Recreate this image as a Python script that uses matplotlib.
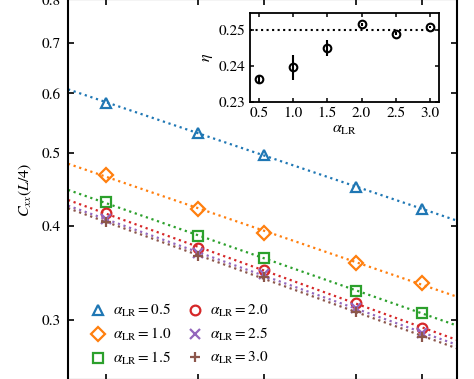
import matplotlib
matplotlib.use("Agg")
import matplotlib.pyplot as plt
import numpy as np
from matplotlib.ticker import NullLocator, FixedLocator, FixedFormatter

plt.rcParams['font.family'] = 'STIXGeneral'
plt.rcParams['mathtext.fontset'] = 'stix'
plt.rcParams['font.size'] = 10.5

# system sizes and correlation values C_xx(L/4)
L = [16, 24, 32, 48, 64]
alphas = [0.5, 1.0, 1.5, 2.0, 2.5, 3.0]
C_05 = [0.583, 0.532, 0.497, 0.451, 0.421]
C_10 = [0.4675, 0.421, 0.392, 0.357, 0.336]
C_15 = [0.430, 0.3875, 0.3623, 0.3278, 0.3068]
C_20 = [0.4158, 0.374, 0.3496, 0.3157, 0.293]
C_25 = [0.408, 0.368, 0.345, 0.311, 0.288]
C_30 = [0.4045, 0.365, 0.342, 0.3077, 0.285]
series = [C_05, C_10, C_15, C_20, C_25, C_30]

# exponent eta vs alpha (inset)
eta = [0.2363, 0.2397, 0.2450, 0.2517, 0.2490, 0.2509]
eta_err = [0.0012, 0.0035, 0.0023, 0.0004, 0.0004, 0.0004]

colors = ['#1f77b4', '#ff7f0e', '#2ca02c', '#d62728', '#9467bd', '#8c564b']
markers = ['^', 'D', 's', 'o', 'x', '+']
msizes = [7, 7, 7, 7, 6.5, 7.5]

fig = plt.figure(figsize=(4.74, 3.79), dpi=100)
ax = fig.add_axes([68/474, -0.0016, (457-68)/474, 1.0032])

xmin, xmax = 13.54, 74.6
xx = np.geomspace(xmin, xmax, 100)
for c, m, ms, a, C in zip(colors, markers, msizes, alphas, series):
    # power-law fit through the points
    p = np.polyfit(np.log(L), np.log(C), 1)
    ax.plot(xx, np.exp(np.polyval(p, np.log(xx))), ':', color=c, lw=1.6)
    ax.plot(L, C, m, color=c, mfc='none', mec=c, ms=ms, mew=1.6,
            ls='none', label=r'$\alpha_{\rm LR}=%.1f$' % a)

ax.set_xscale('log')
ax.set_yscale('log')
ax.set_xlim(xmin, xmax)
ax.set_ylim(0.25, 0.8)
yt = [0.3, 0.4, 0.5, 0.6, 0.7, 0.8]
ax.yaxis.set_major_locator(FixedLocator(yt))
ax.yaxis.set_major_formatter(FixedFormatter(['%.1f' % v for v in yt]))
ax.xaxis.set_major_locator(FixedLocator(L))
ax.xaxis.set_minor_locator(NullLocator())
ax.yaxis.set_minor_locator(NullLocator())
ax.tick_params(direction='in', top=True, right=True, length=4, width=1.2, pad=5,
               labelsize=11, labelbottom=False)
for s in ax.spines.values():
    s.set_linewidth(1.5)
ax.set_ylabel(r'$C_{xx}(L/4)$', fontsize=11.5, labelpad=6)

ax.legend(ncol=2, loc='lower left', bbox_to_anchor=(0.017, -0.003), frameon=False,
          fontsize=11, handletextpad=0.4, columnspacing=0.95, labelspacing=0.45,
          handlelength=1.2)

# inset
ins = fig.add_axes([250/474, 1-102/379, (439-250)/474, (102-13)/379])
ins.errorbar(alphas, eta, yerr=eta_err, fmt='o', color='black', mfc='none',
             ms=5.5, mew=1.5, elinewidth=1.5, capsize=0)
ins.axhline(0.25, color='black', ls=':', lw=1.5)
ins.set_xlim(0.37, 3.13)
ins.set_ylim(0.23, 0.2548)
ins.set_xticks([0.5, 1.0, 1.5, 2.0, 2.5, 3.0])
ins.set_yticks([0.23, 0.24, 0.25])
ins.tick_params(direction='in', top=True, right=True, length=3, width=1.1, pad=3, labelsize=11)
for s in ins.spines.values():
    s.set_linewidth(1.3)
ins.set_xlabel(r'$\alpha_{\rm LR}$', fontsize=11.5, labelpad=3)
ins.set_ylabel(r'$\eta$', fontsize=11.5, labelpad=3)

fig.savefig('out.png', dpi=100)
